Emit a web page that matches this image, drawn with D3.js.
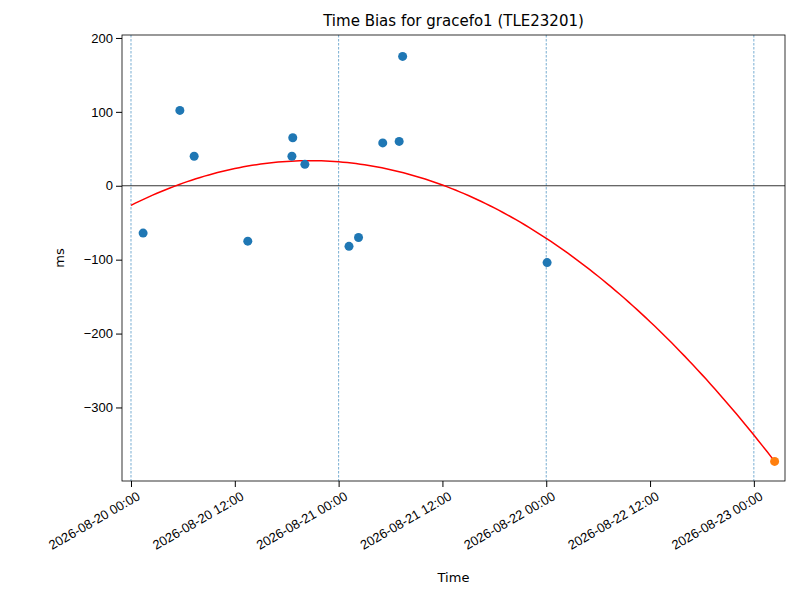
<!DOCTYPE html>
<html><head><meta charset="utf-8">
<script src="https://cdn.jsdelivr.net/npm/d3@7"></script>
<style>body{margin:0;background:#fff;font-family:"DejaVu Sans",sans-serif}</style>
</head><body><div id="chart"></div>
<script>
// hours since 2026-08-20 00:00, bias in ms
const obsHours = [1.4, 5.65, 7.3, 13.5, 18.6, 18.7, 20.1, 25.2, 26.3, 29.1, 31.0, 31.4, 48.1];
const obsMs    = [-64, 102, 40, -75, 40, 65, 29, -82, -70, 58, 60, 175, -104];
const predHours = [74.4];
const predMs = [-373];
// quadratic fit: peak, peak hour, curvature
const fitCoef = [34, 20.7, 0.1411];
const dayLines = ["2026-08-20T00:00", "2026-08-21T00:00", "2026-08-22T00:00", "2026-08-23T00:00"];
const xTicks = ["2026-08-20T00:00","2026-08-20T12:00","2026-08-21T00:00","2026-08-21T12:00","2026-08-22T00:00","2026-08-22T12:00","2026-08-23T00:00"];
const yTicks = [-300, -200, -100, 0, 100, 200];

const W = 800, H = 600, m = {l:122, r:15, t:35, b:119};
const t0 = new Date("2026-08-20T00:00");
const hToDate = h => new Date(t0.getTime() + h * 3600e3);
const svg = d3.select("#chart").append("svg").attr("width", W).attr("height", H);
const x = d3.scaleTime().domain([hToDate(-1.04), hToDate(75.6)]).range([m.l, W - m.r]);
const y = d3.scaleLinear().domain([-399.5, 204]).range([H - m.b, m.t]);
const fmt = d3.timeFormat("%Y-%m-%d %H:%M");

svg.selectAll(".day").data(dayLines).join("line")
  .attr("x1", d => x(new Date(d))).attr("x2", d => x(new Date(d)))
  .attr("y1", m.t).attr("y2", H - m.b)
  .attr("stroke", "#1f77b4").attr("stroke-width", 0.6).attr("stroke-dasharray", "2.5,1.5");
svg.append("line").attr("x1", m.l).attr("x2", W - m.r).attr("y1", y(0)).attr("y2", y(0))
  .attr("stroke", "black").attr("stroke-width", 0.8);

const fitH = d3.range(0, 74.41, 0.5).concat([74.4]);
const fit = h => fitCoef[0] - fitCoef[2] * (h - fitCoef[1]) ** 2;
svg.append("path").datum(fitH)
  .attr("d", d3.line().x(h => x(hToDate(h))).y(h => y(fit(h))))
  .attr("fill", "none").attr("stroke", "red").attr("stroke-width", 1.5);

svg.selectAll(".obs").data(obsHours).join("circle")
  .attr("cx", h => x(hToDate(h))).attr("cy", (h, i) => y(obsMs[i])).attr("r", 4.5).attr("fill", "#1f77b4");
svg.selectAll(".pred").data(predHours).join("circle")
  .attr("cx", h => x(hToDate(h))).attr("cy", (h, i) => y(predMs[i])).attr("r", 4.5).attr("fill", "#ff7f0e");

const xa = svg.append("g").attr("transform", `translate(0,${H - m.b})`)
  .call(d3.axisBottom(x).tickValues(xTicks.map(d => new Date(d))).tickFormat(fmt).tickSizeOuter(0));
xa.selectAll("text").attr("text-anchor", "end").attr("dx", "0").attr("dy", "0")
  .attr("transform", "translate(5,10) rotate(-30)").style("font-size", "13px");
const ya = svg.append("g").attr("transform", `translate(${m.l},0)`)
  .call(d3.axisLeft(y).tickValues(yTicks).tickFormat(d => d < 0 ? "\u2212" + (-d) : d).tickSizeOuter(0));
ya.selectAll("text").style("font-size", "13px");
svg.selectAll(".domain").remove();
svg.append("rect").attr("x", m.l).attr("y", m.t).attr("width", W - m.l - m.r).attr("height", H - m.t - m.b)
  .attr("fill", "none").attr("stroke", "black").attr("stroke-width", 0.8);

svg.append("text").attr("x", (m.l + W - m.r) / 2).attr("y", 26).attr("text-anchor", "middle")
  .style("font-size", "15px").text("Time Bias for gracefo1 (TLE23201)");
svg.append("text").attr("x", (m.l + W - m.r) / 2).attr("y", 582).attr("text-anchor", "middle")
  .style("font-size", "13px").text("Time");
svg.append("text").attr("transform", `translate(64,${(m.t + H - m.b) / 2}) rotate(-90)`).attr("text-anchor", "middle")
  .style("font-size", "13px").text("ms");
</script></body></html>
